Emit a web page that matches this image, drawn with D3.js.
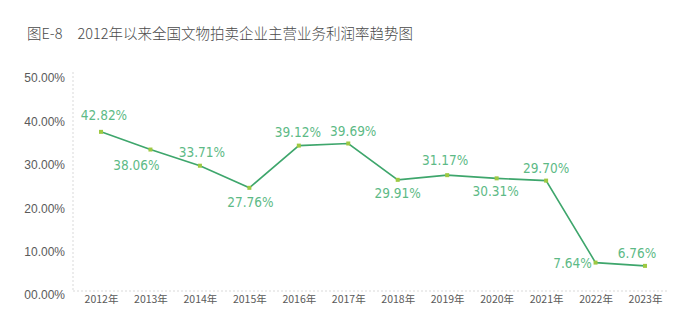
<!DOCTYPE html>
<html><head><meta charset="utf-8">
<script src="https://cdn.jsdelivr.net/npm/d3@7"></script>
<style>
html,body{margin:0;padding:0;background:#fff;}
svg{display:block;}
</style></head>
<body>
<script>
const title = "2012年以来全国文物拍卖企业主营业务利润率趋势图";
const titlePrefix = "图E-8";
const years = ["2012年","2013年","2014年","2015年","2016年","2017年","2018年","2019年","2020年","2021年","2022年","2023年"];
const values = [42.82,38.06,33.71,27.76,39.12,39.69,29.91,31.17,30.31,29.70,7.64,6.76];
const tickValues = [0,10,20,30,40,50];
const tickLabels = ["00.00%","10.00%","20.00%","30.00%","40.00%","50.00%"];
// label placement per point: [dx, dy]
const labelPos = [[3,-17],[-14,16],[2,-13],[1,14],[-1,-13],[5,-12],[0,13],[-2,-15],[-1,13],[0,-12],[-23,1],[-8,-13]];

const W = 675, H = 329;
const svg = d3.select("body").append("svg").attr("width", W).attr("height", H);

const fontCJK = "'Noto Sans CJK SC','Noto Sans',sans-serif";
const fontNum = "'Liberation Sans','Noto Sans CJK SC',sans-serif";

const t = svg.append("text").attr("x", 27).attr("y", 39)
  .attr("font-family", fontCJK).attr("font-size", 14.5).attr("font-weight", 300).attr("fill", "#4a4a4a");
t.append("tspan").text(titlePrefix);
t.append("tspan").attr("dx", 15).text(title);

const plotLeft = 73, plotRight = 668, plotBottom = 291, plotTop = 68;

const x = d3.scalePoint().domain(years).range([101, 645]);
const y = d3.scaleLinear().domain([0, 60]).range([plotBottom, plotTop]);
const yAxisScale = d3.scaleLinear().domain([0, 50]).range([295, 78]);

// axes lines
svg.append("line").attr("x1", plotLeft).attr("x2", plotLeft).attr("y1", 72).attr("y2", plotBottom)
  .attr("stroke", "#d9d9d9").attr("stroke-width", 1).attr("stroke-dasharray", "2,2");
svg.append("line").attr("x1", plotLeft).attr("x2", plotRight).attr("y1", plotBottom).attr("y2", plotBottom)
  .attr("stroke", "#d9d9d9").attr("stroke-width", 1).attr("stroke-dasharray", "2,2");

// y tick labels
const yAxis = d3.axisLeft(yAxisScale).tickValues(tickValues)
  .tickFormat((d, i) => tickLabels[i]).tickSize(0).tickPadding(0);
const gy = svg.append("g").attr("transform", "translate(65,0)").call(yAxis);
gy.select(".domain").remove();
gy.selectAll("text").attr("font-family", fontNum).attr("font-size", 12).attr("fill", "#5a5a5a");

// x tick labels
const xAxis = d3.axisBottom(x).tickSize(0).tickPadding(0);
const gx = svg.append("g").attr("transform", "translate(0,296)").call(xAxis);
gx.select(".domain").remove();
gx.selectAll("text").attr("font-family", fontCJK).attr("font-size", 10.5).attr("fill", "#5a5a5a");

// line
const line = d3.line().x((d, i) => x(years[i])).y(d => y(d));
svg.append("path").datum(values).attr("d", line)
  .attr("fill", "none").attr("stroke", "#3ea66c").attr("stroke-width", 1.6);

// markers
svg.selectAll("rect.m").data(values).enter().append("rect").attr("class", "m")
  .attr("x", (d, i) => x(years[i]) - 2).attr("y", d => y(d) - 2)
  .attr("width", 4).attr("height", 4).attr("fill", "#9ec942");

// data labels
svg.selectAll("text.lbl").data(values).enter().append("text").attr("class", "lbl")
  .attr("x", (d, i) => x(years[i]) + labelPos[i][0])
  .attr("y", (d, i) => y(d) + labelPos[i][1])
  .attr("dy", "0.35em")
  .attr("text-anchor", "middle")
  .attr("font-family", "'DejaVu Sans Condensed','Liberation Sans Narrow','Roboto',sans-serif")
  .attr("font-size", 13.5).attr("fill", "#5dba86")
  .text(d => d.toFixed(2) + "%");
</script>
</body></html>
